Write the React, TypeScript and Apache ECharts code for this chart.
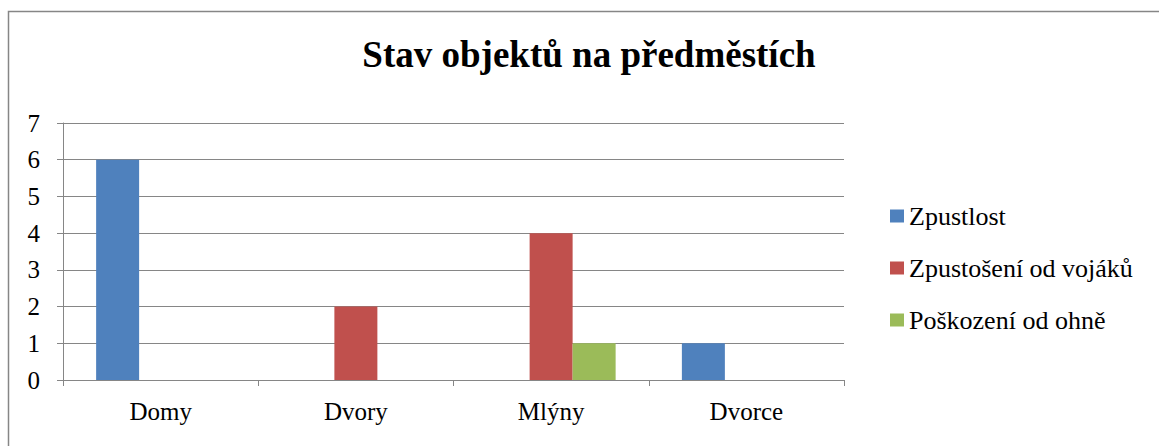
import React, { useEffect, useRef } from "react";
import * as echarts from "echarts";

const TITLE = "Stav objektů na předměstích";
const categories = ["Domy", "Dvory", "Mlýny", "Dvorce"];
const seriesNames = ["Zpustlost", "Zpustošení od vojáků", "Poškození od ohně"];
const zpustlost = [6, 0, 0, 1];
const zpustoseni = [0, 2, 4, 0];
const poskozeni = [0, 0, 1, 0];
const colors = ["#4F81BD", "#C0504D", "#9BBB59"];
const yTicks = { min: 0, max: 7, interval: 1 };

const FONT = "Liberation Serif";
const GRAY = "#868686";

export default function App() {
  const ref = useRef<HTMLDivElement>(null);
  useEffect(() => {
    if (!ref.current) return;
    const chart = echarts.init(ref.current, undefined, { renderer: "svg" });
    const values = [zpustlost, zpustoseni, poskozeni];
    chart.setOption({
      animation: false,
      backgroundColor: "#ffffff",
      textStyle: { fontFamily: FONT, color: "#000" },
      title: {
        text: TITLE,
        left: 589,
        textAlign: "center",
        top: 36,
        padding: 0,
        textStyle: {
          fontFamily: FONT,
          fontSize: 37,
          fontWeight: "bold",
          color: "#000",
          lineHeight: 37,
        },
      },
      graphic: [
        {
          type: "rect",
          shape: { x: 8.5, y: 11.5, width: 1200, height: 500 },
          style: { fill: "none", stroke: GRAY, lineWidth: 1.5 },
          silent: true,
          z: -1,
        },
      ],
      legend: {
        orient: "vertical",
        left: 890,
        top: 203,
        padding: 0,
        itemWidth: 14,
        itemHeight: 13,
        itemGap: 26,
        icon: "rect",
        data: seriesNames,
        textStyle: {
          fontFamily: FONT,
          fontSize: 26,
          lineHeight: 26,
          color: "#000",
        },
      },
      grid: { left: 63, top: 123, right: 315, bottom: 66, containLabel: false },
      xAxis: {
        type: "category",
        data: categories,
        boundaryGap: true,
        axisLine: { show: true, lineStyle: { color: GRAY, width: 1 } },
        axisTick: { show: true, length: 6, lineStyle: { color: GRAY } },
        axisLabel: { fontFamily: FONT, fontSize: 25, color: "#000", margin: 19 },
      },
      yAxis: {
        type: "value",
        min: yTicks.min,
        max: yTicks.max,
        interval: yTicks.interval,
        axisLine: { show: true, lineStyle: { color: GRAY, width: 1 } },
        axisTick: { show: true, length: 6, lineStyle: { color: GRAY } },
        splitLine: { show: true, lineStyle: { color: GRAY, width: 1 } },
        axisLabel: { fontFamily: FONT, fontSize: 25, color: "#000", margin: 23 },
      },
      series: seriesNames.map((name, i) => ({
        name,
        type: "bar",
        data: values[i],
        barWidth: 43,
        barGap: "0%",
        itemStyle: { color: colors[i] },
      })),
    });
    return () => chart.dispose();
  }, []);
  return (
    <div
      ref={ref}
      style={{ position: "fixed", left: 0, top: 0, width: 1159, height: 446 }}
    />
  );
}
